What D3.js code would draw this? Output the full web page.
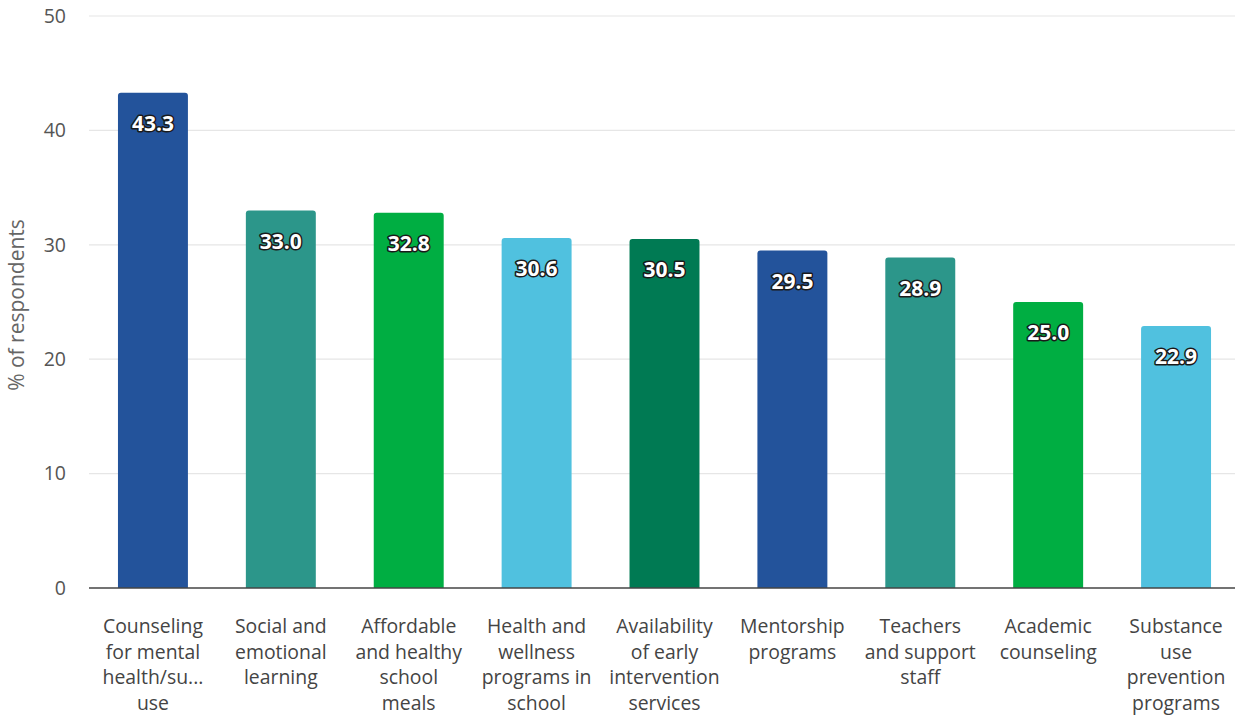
<!DOCTYPE html>
<html>
<head>
<meta charset="utf-8">
<script src="https://cdn.jsdelivr.net/npm/d3@7/dist/d3.min.js"></script>
<style>
  html, body { margin: 0; padding: 0; background: #fff; }
  svg { display: block; font-family: "Open Sans", "Noto Sans", sans-serif; }
</style>
</head>
<body>
<svg id="chart" width="1235" height="716"></svg>
<script>
// Survey results: share of respondents naming each school support
const categories = [
  "Counseling for mental health/substance use",
  "Social and emotional learning",
  "Affordable and healthy school meals",
  "Health and wellness programs in school",
  "Availability of early intervention services",
  "Mentorship programs",
  "Teachers and support staff",
  "Academic counseling",
  "Substance use prevention programs"
];
const values = [43.3, 33.0, 32.8, 30.6, 30.5, 29.5, 28.9, 25.0, 22.9];
const tickLabels = [
  ["Counseling", "for mental", "health/su...", "use"],
  ["Social and", "emotional", "learning"],
  ["Affordable", "and healthy", "school", "meals"],
  ["Health and", "wellness", "programs in", "school"],
  ["Availability", "of early", "intervention", "services"],
  ["Mentorship", "programs"],
  ["Teachers", "and support", "staff"],
  ["Academic", "counseling"],
  ["Substance", "use", "prevention", "programs"]
];
const yTicks = [0, 10, 20, 30, 40, 50];
const palette = ["#23539b", "#2c968a", "#00ae42", "#50c1df", "#007a53"];

const svg = d3.select("#chart");
const margin = { left: 89, top: 16, bottom: 588 };

const x = d3.scaleBand()
  .domain(categories)
  .range([margin.left, 1240])
  .paddingInner(0.453)
  .paddingOuter(0.2265);

const y = d3.scaleLinear().domain([0, 50]).range([margin.bottom, margin.top]);

// Horizontal gridlines
svg.append("g")
  .selectAll("line")
  .data(yTicks.filter(d => d !== 0))
  .join("line")
  .attr("x1", margin.left).attr("x2", 1235)
  .attr("y1", d => y(d)).attr("y2", d => y(d))
  .attr("stroke", "#e6e6e6").attr("stroke-width", 1.2);

// Y axis tick labels
svg.append("g")
  .selectAll("text")
  .data(yTicks)
  .join("text")
  .attr("x", 66)
  .attr("y", d => y(d))
  .attr("dy", "0.35em")
  .attr("text-anchor", "end")
  .attr("font-size", 19.5)
  .attr("fill", "#555")
  .text(d => d);

// Y axis title
svg.append("text")
  .attr("transform", `translate(24, 305) rotate(-90)`)
  .attr("text-anchor", "middle")
  .attr("font-size", 21)
  .attr("fill", "#666")
  .text("% of respondents");

// Bars with slightly rounded top corners
const r = 3;
function barPath(d, i) {
  const x0 = x(categories[i]), w = x.bandwidth();
  const y0 = y(d), y1 = y(0);
  return `M${x0},${y1}V${y0 + r}Q${x0},${y0} ${x0 + r},${y0}H${x0 + w - r}Q${x0 + w},${y0} ${x0 + w},${y0 + r}V${y1}Z`;
}
svg.append("g")
  .selectAll("path")
  .data(values)
  .join("path")
  .attr("d", barPath)
  .attr("fill", (d, i) => palette[i % palette.length]);

// Baseline
svg.append("line")
  .attr("x1", margin.left).attr("x2", 1235)
  .attr("y1", y(0)).attr("y2", y(0))
  .attr("stroke", "#444").attr("stroke-width", 1.5);

// Value labels inside bars
svg.append("g")
  .selectAll("text")
  .data(values)
  .join("text")
  .attr("x", (d, i) => x(categories[i]) + x.bandwidth() / 2)
  .attr("y", d => y(d) + 31)
  .attr("dy", "0.35em")
  .attr("text-anchor", "middle")
  .attr("font-size", 21)
  .attr("font-weight", 700)
  .attr("fill", "#fff")
  .attr("stroke", "#1a1a1a")
  .attr("stroke-width", 3)
  .attr("stroke-linejoin", "round")
  .attr("paint-order", "stroke")
  .text(d => d.toFixed(1));

// Category labels
const xl = svg.append("g")
  .selectAll("text")
  .data(tickLabels)
  .join("text")
  .attr("x", (d, i) => x(categories[i]) + x.bandwidth() / 2)
  .attr("y", 633)
  .attr("text-anchor", "middle")
  .attr("font-size", 19.4)
  .attr("fill", "#444");
xl.each(function(lines) {
  const t = d3.select(this);
  const cx = t.attr("x");
  lines.forEach((ln, k) => {
    t.append("tspan").attr("x", cx).attr("dy", k === 0 ? 0 : 25.5).text(ln);
  });
});
</script>
</body>
</html>
